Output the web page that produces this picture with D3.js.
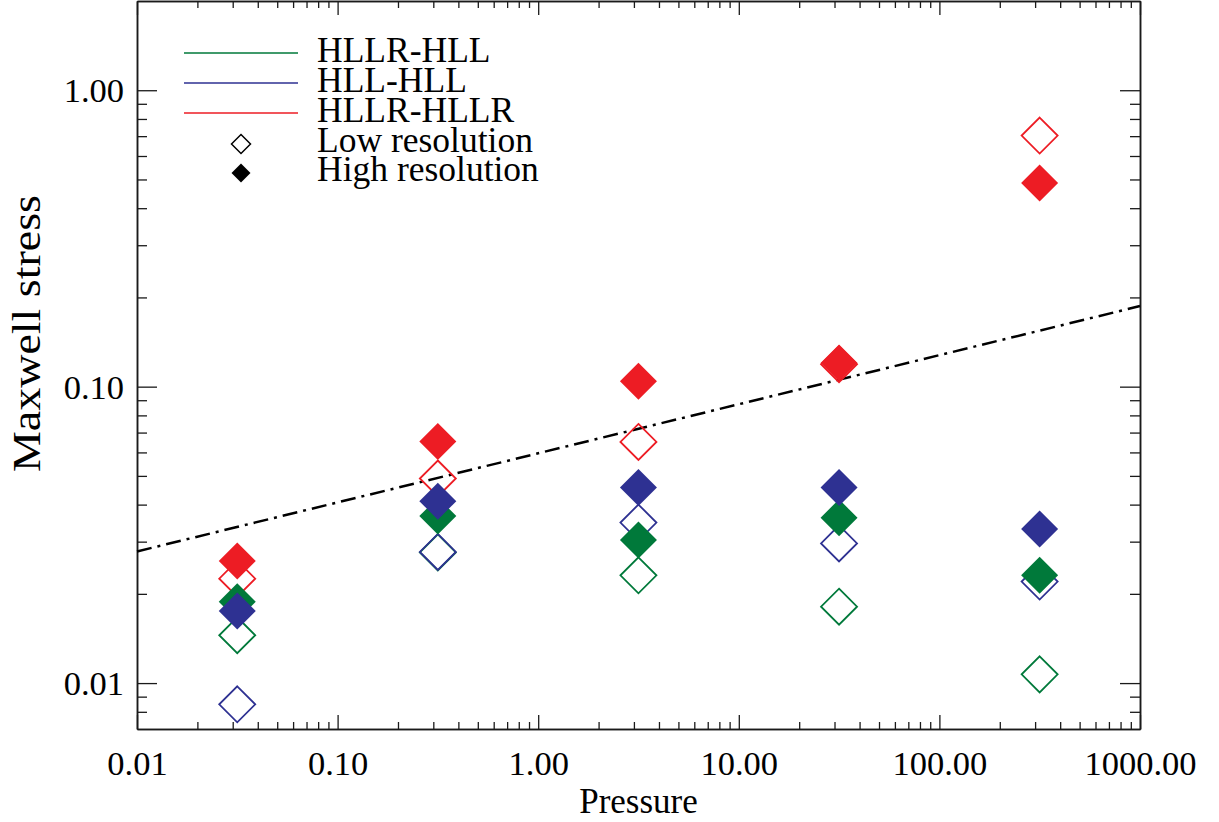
<!DOCTYPE html>
<html>
<head>
<meta charset="utf-8">
<script src="https://cdn.jsdelivr.net/npm/d3@7"></script>
<style>
  html, body { margin: 0; padding: 0; background: #fff; }
  svg { display: block; }
  text { font-family: "Liberation Serif", "Times New Roman", serif; }
</style>
</head>
<body>
<svg id="chart" width="1219" height="822"></svg>
<script>
// ---------------- data ----------------
const pressure = [0.0316, 0.316, 3.16, 31.6, 316];
const hllrHllLow   = [0.0145, 0.0276, 0.0231, 0.0181, 0.0107];
const hllrHllHigh  = [0.0188, 0.0366, 0.0304, 0.0361, 0.0231];
const hllHllLow    = [0.00848, 0.0277, 0.0348, 0.0296, 0.0220];
const hllHllHigh   = [0.0175, 0.0411, 0.0457, 0.0457, 0.0331];
const hllrHllrLow  = [0.0225, 0.0490, 0.0651, 0.1190, 0.703];
const hllrHllrHigh = [0.0258, 0.0653, 0.1043, 0.1202, 0.486];

const fitX = [0.01, 1000];
const fitY = [0.0278, 0.187];

const xTickValues = [0.01, 0.1, 1, 10, 100, 1000];
const xTickLabels = ["0.01", "0.10", "1.00", "10.00", "100.00", "1000.00"];
const yTickValues = [0.01, 0.1, 1];
const yTickLabels = ["0.01", "0.10", "1.00"];

const seriesNames = ["HLLR-HLL", "HLL-HLL", "HLLR-HLLR"];
const markerNames = ["Low resolution", "High resolution"];

// ---------------- layout ----------------
const FONT = "Liberation Serif";
const colors = { green: "#00793a", blue: "#2e3192", red: "#ed1c24" };
const L = 137, R = 1140, T = 1, B = 729;

const svg = d3.select("#chart").attr("font-family", FONT);
const x = d3.scaleLog().domain([0.01, 1000]).range([L, R]);
const y = d3.scaleLog().domain([0.007, 2]).range([B, T]);

// minor tick values
const xMinor = [];
for (let e = -2; e < 3; e++) for (let m = 2; m <= 9; m++) xMinor.push(m * Math.pow(10, e));
const yMinor = [0.008, 0.009];
for (let e = -2; e < 0; e++) for (let m = 2; m <= 9; m++) yMinor.push(+(m * Math.pow(10, e)).toPrecision(3));

const axisColor = "#1a1a1a";
function styleAxis(g) {
  g.attr("font-family", FONT);
  g.selectAll("path.domain").attr("stroke", axisColor).attr("stroke-width", 1.5);
  g.selectAll(".tick line").attr("stroke", axisColor).attr("stroke-width", 1.3);
}

// bottom axis
const gB = svg.append("g").attr("transform", `translate(0,${B})`)
  .call(d3.axisBottom(x).tickValues(xTickValues).tickSize(-14).tickSizeOuter(0)
    .tickFormat((d, i) => xTickLabels[i]));
styleAxis(gB);
gB.selectAll(".tick text").attr("y", 46).attr("dy", 0)
  .attr("font-size", 34.5).attr("fill", "#000").attr("font-family", FONT);
svg.append("g").attr("transform", `translate(0,${B})`)
  .call(d3.axisBottom(x).tickValues(xMinor).tickSize(-7).tickSizeOuter(0).tickFormat(""))
  .call(styleAxis);

// top axis
svg.append("g").attr("transform", `translate(0,${T})`)
  .call(d3.axisTop(x).tickValues(xTickValues).tickSize(-14).tickSizeOuter(0).tickFormat(""))
  .call(styleAxis);
svg.append("g").attr("transform", `translate(0,${T})`)
  .call(d3.axisTop(x).tickValues(xMinor).tickSize(-7).tickSizeOuter(0).tickFormat(""))
  .call(styleAxis);

// left axis
const gL = svg.append("g").attr("transform", `translate(${L},0)`)
  .call(d3.axisLeft(y).tickValues(yTickValues).tickSize(-20).tickSizeOuter(0)
    .tickFormat((d, i) => yTickLabels[i]));
styleAxis(gL);
gL.selectAll(".tick text").attr("x", -13).attr("dy", "0.34em")
  .attr("font-size", 34.5).attr("fill", "#000").attr("font-family", FONT);
svg.append("g").attr("transform", `translate(${L},0)`)
  .call(d3.axisLeft(y).tickValues(yMinor).tickSize(-10).tickSizeOuter(0).tickFormat(""))
  .call(styleAxis);

// right axis
svg.append("g").attr("transform", `translate(${R},0)`)
  .call(d3.axisRight(y).tickValues(yTickValues).tickSize(-20).tickSizeOuter(0).tickFormat(""))
  .call(styleAxis);
svg.append("g").attr("transform", `translate(${R},0)`)
  .call(d3.axisRight(y).tickValues(yMinor).tickSize(-10).tickSizeOuter(0).tickFormat(""))
  .call(styleAxis);

// axis titles
svg.append("text").attr("x", (L + R) / 2).attr("y", 813)
  .attr("text-anchor", "middle").attr("font-size", 35).attr("font-family", FONT)
  .text("Pressure");
svg.append("text")
  .attr("transform", `translate(40,${(195 + 472) / 2}) rotate(-90)`)
  .attr("text-anchor", "middle").attr("font-size", 40).attr("font-family", FONT)
  .attr("textLength", 277).attr("lengthAdjust", "spacingAndGlyphs")
  .text("Maxwell stress");

// fit line (dash-dot)
const fitData = fitX.map((v, i) => [v, fitY[i]]);
svg.append("path").datum(fitData)
  .attr("d", d3.line().x(d => x(d[0])).y(d => y(d[1])))
  .attr("fill", "none").attr("stroke", "#000").attr("stroke-width", 2.5)
  .attr("stroke-dasharray", "15,6,3,6");

// markers
const diamond = (cx, cy, r) => `M${cx},${cy - r}L${cx + r},${cy}L${cx},${cy + r}L${cx - r},${cy}Z`;
const layers = [
  { vals: hllrHllLow, color: colors.green, filled: false },
  { vals: hllHllLow, color: colors.blue, filled: false },
  { vals: hllrHllrLow, color: colors.red, filled: false },
  { vals: hllrHllHigh, color: colors.green, filled: true },
  { vals: hllHllHigh, color: colors.blue, filled: true },
  { vals: hllrHllrHigh, color: colors.red, filled: true }
];
const gM = svg.append("g");
layers.forEach(layer => {
  gM.append("g").selectAll("path").data(layer.vals).enter().append("path")
    .attr("d", (v, i) => diamond(x(pressure[i]), y(v), layer.filled ? 18.5 : 18))
    .attr("fill", layer.filled ? layer.color : "none")
    .attr("stroke", layer.color)
    .attr("stroke-width", layer.filled ? 0 : 1.8);
});

// legend
const legColors = [colors.green, colors.blue, colors.red];
const gLeg = svg.append("g").attr("font-family", FONT);
seriesNames.forEach((name, i) => {
  const ly = 53 + i * 30;
  gLeg.append("line").attr("x1", 184).attr("x2", 298).attr("y1", ly).attr("y2", ly)
    .attr("stroke", legColors[i]).attr("stroke-width", 1.3);
  gLeg.append("text").attr("x", 317).attr("y", ly + 9).attr("font-size", 35.5)
    .attr("font-family", FONT).text(name);
});
markerNames.forEach((name, i) => {
  const ly = 144 + i * 29;
  gLeg.append("path").attr("d", diamond(241, ly, 9.5))
    .attr("fill", i === 0 ? "none" : "#000").attr("stroke", "#000")
    .attr("stroke-width", i === 0 ? 1.5 : 0);
  gLeg.append("text").attr("x", 317).attr("y", ly + 8).attr("font-size", 35.5)
    .attr("font-family", FONT).text(name);
});
</script>
</body>
</html>
